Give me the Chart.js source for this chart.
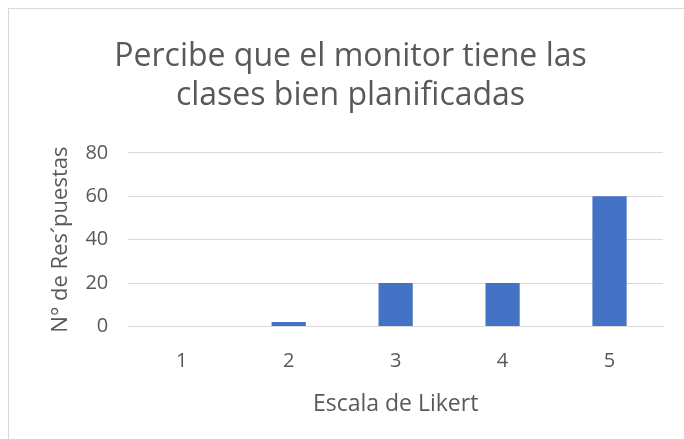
<!DOCTYPE html>
<html>
<head>
<meta charset="utf-8">
<script src="https://cdn.jsdelivr.net/npm/chart.js@4"></script>
<style>
  html, body { margin: 0; padding: 0; background: #fff; overflow: hidden; }
  #box {
    position: absolute; left: 8px; top: 8px;
    width: 684px; height: 439px;
    border-left: 1px solid #d9d9d9; border-top: 1px solid #d9d9d9;
  }
</style>
</head>
<body>
<div id="box"><canvas id="chart" width="684" height="439"></canvas></div>
<script>
// datos
const categories = ['1', '2', '3', '4', '5'];
const responses = [0, 2, 20, 20, 60];
const titleLines = ['Percibe que el monitor tiene las', 'clases bien planificadas'];
const yTitle = 'N° de Res´puestas';
const xTitle = 'Escala de Likert';

const TEXT = '#595959';
const GRID = '#d9d9d9';
const BAR = '#4472c4';
const FONT = "'Open Sans', sans-serif";

Chart.defaults.font.family = FONT;
Chart.defaults.color = TEXT;

new Chart(document.getElementById('chart'), {
  type: 'bar',
  data: {
    labels: categories,
    datasets: [{
      data: responses,
      backgroundColor: BAR,
      barPercentage: 0.32,
      categoryPercentage: 1,
    }],
  },
  options: {
    responsive: false,
    animation: false,
    layout: { padding: { left: 29, right: 30, bottom: 26 } },
    plugins: {
      legend: { display: false },
      tooltip: { enabled: false },
      title: {
        display: true,
        text: titleLines,
        font: { size: 32, weight: 'normal', lineHeight: 1.2 },
        color: TEXT,
        padding: { top: 29, bottom: 38 },
      },
    },
    scales: {
      y: {
        min: 0, max: 80,
        ticks: { stepSize: 20, font: { size: 20 }, color: TEXT, padding: 20 },
        grid: { color: GRID, drawTicks: false },
        border: { display: false },
        title: { display: true, text: yTitle, font: { size: 22 }, color: TEXT, padding: { top: 10, bottom: -9 } },
      },
      x: {
        ticks: { font: { size: 20 }, color: TEXT, padding: 15 },
        grid: { display: false },
        border: { color: GRID },
        title: { display: true, text: xTitle, font: { size: 23 }, color: TEXT, padding: { top: 2 } },
      },
    },
  },
});
</script>
</body>
</html>
